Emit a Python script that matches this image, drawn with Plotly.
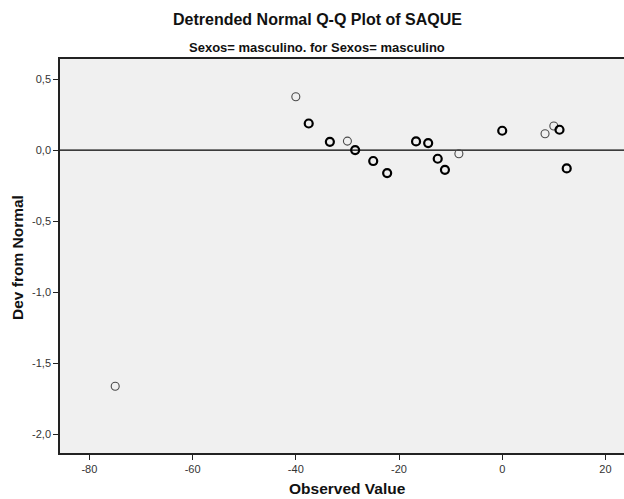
import plotly.graph_objects as go

# Detrended normal Q-Q values for SAQUE (Sexos = masculino)
observed = [-75, -40, -37.5, -33.4, -30, -28.5, -25, -22.3, -16.7, -14.35,
            -12.5, -11.1, -8.4, 0, 8.3, 10, 11.1, 12.5]
deviation = [-1.662, 0.375, 0.187, 0.058, 0.063, 0.0, -0.077, -0.162, 0.061, 0.049,
             -0.061, -0.139, -0.026, 0.136, 0.115, 0.169, 0.143, -0.129]
# number of cases sharing each observed value
ties = [1, 1, 2, 2, 1, 2, 2, 2, 2, 2, 2, 2, 1, 2, 1, 1, 2, 2]

x_ticks = [-80, -60, -40, -20, 0, 20]
x_tick_labels = ["-80", "-60", "-40", "-20", "0", "20"]
y_ticks = [0.5, 0.0, -0.5, -1.0, -1.5, -2.0]
y_tick_labels = ["0,5", "0,0", "-0,5", "-1,0", "-1,5", "-2,0"]

FONT = "Liberation Sans, Arial, sans-serif"

line_w = [2.2 if t > 1 else 1.1 for t in ties]
line_c = ["#000000" if t > 1 else "#4a4a4a" for t in ties]

fig = go.Figure()
fig.add_trace(go.Scatter(
    x=observed, y=deviation, mode="markers",
    marker=dict(symbol="circle-open", size=8, color=line_c,
                line=dict(width=line_w, color=line_c)),
    showlegend=False, hoverinfo="x+y",
))

# horizontal reference line at zero deviation
fig.add_shape(type="line", xref="paper", x0=0, x1=1, yref="y", y0=0, y1=0,
              line=dict(color="black", width=1.2), layer="below")

PL, PT, PW, PH = 60, 59, 564, 394  # plot area in pixels


def px_x(px):
    return (px - PL) / PW


def px_y(py):
    return (PT + PH - py) / PH


fig.update_layout(
    width=624, height=499,
    margin=dict(l=PL, r=0, t=PT, b=499 - PT - PH),
    paper_bgcolor="white", plot_bgcolor="#f0f0f0",
    font=dict(family=FONT, color="#222222", size=11),
    xaxis=dict(range=[-85.7, 23.6], tickvals=x_ticks, ticktext=x_tick_labels,
               showgrid=False, zeroline=False, showline=True, linecolor="#222222",
               linewidth=1.5, mirror=True, ticks="outside", ticklen=5,
               tickcolor="#222222", tickfont=dict(size=11, color="#333333")),
    yaxis=dict(range=[-2.132, 0.641], tickvals=y_ticks, ticktext=y_tick_labels,
               showgrid=False, zeroline=False, showline=True, linecolor="#222222",
               linewidth=1.5, ticks="outside", ticklen=5,
               tickcolor="#222222", tickfont=dict(size=11, color="#333333")),
    annotations=[
        dict(text="<b>Detrended Normal Q-Q Plot of SAQUE</b>", xref="paper", yref="paper",
             x=px_x(317), y=px_y(20), xanchor="center", yanchor="middle",
             showarrow=False, font=dict(size=16, color="#111111")),
        dict(text="<b>Sexos= masculino. for Sexos= masculino</b>", xref="paper", yref="paper",
             x=px_x(317), y=px_y(48), xanchor="center", yanchor="middle",
             showarrow=False, font=dict(size=13, color="#111111")),
        dict(text="<b>Observed Value</b>", xref="paper", yref="paper",
             x=px_x(347), y=px_y(488), xanchor="center", yanchor="middle",
             showarrow=False, font=dict(size=15.5, color="#111111")),
        dict(text="<b>Dev from Normal</b>", xref="paper", yref="paper",
             x=px_x(17), y=px_y(258), xanchor="center", yanchor="middle",
             textangle=-90, showarrow=False, font=dict(size=15.5, color="#111111")),
    ],
)

fig.write_html("out.html")
